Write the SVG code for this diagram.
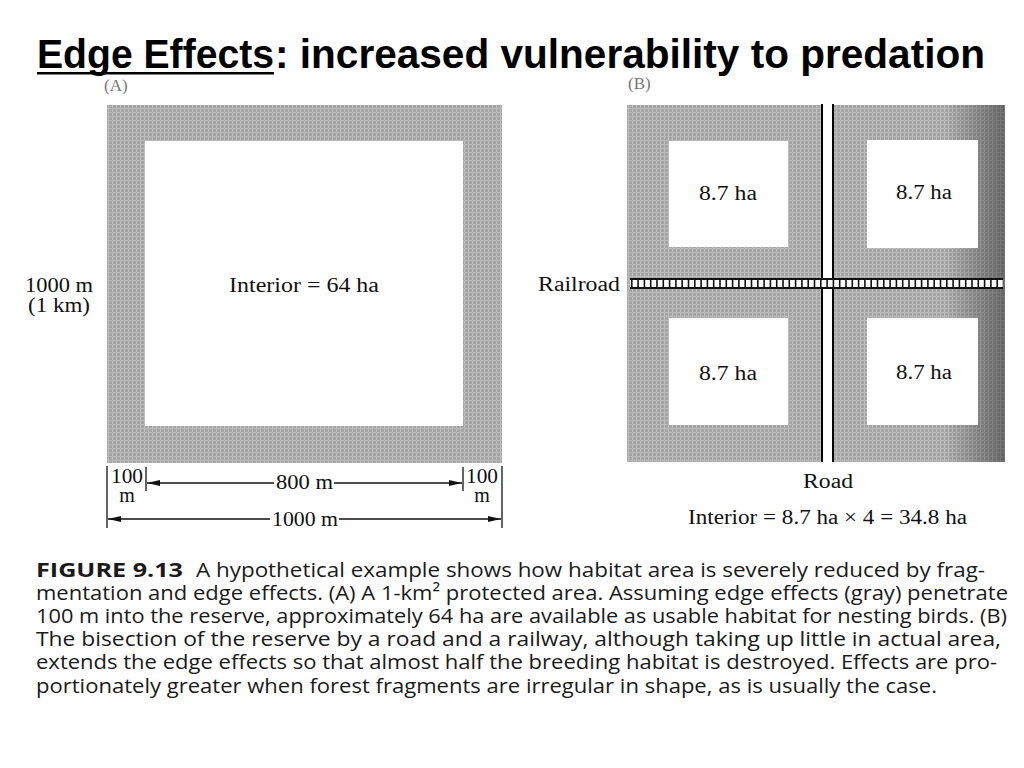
<svg xmlns="http://www.w3.org/2000/svg" width="1024" height="768" viewBox="0 0 1024 768">
<defs>
<style>
.serif{font-family:"Liberation Serif","DejaVu Serif",serif;font-size:20px;fill:#111}
.cap{font-family:"Open Sans","Liberation Sans",sans-serif;font-size:20px;fill:#1a1a1a}
.title{font-family:"Liberation Sans",Arial,sans-serif;font-weight:bold;font-size:40px;fill:#000}
.lbl{font-family:"Liberation Serif",serif;font-size:17px;fill:#777}
.dim{stroke:#111;stroke-width:1.3;fill:none}
.rail{stroke:#111;stroke-width:2}
.road{stroke:#000;stroke-width:2}
</style>
<pattern id="tex" width="4" height="4" patternUnits="userSpaceOnUse">
<rect width="4" height="4" fill="#a5a5a5"/>
<rect width="1" height="4" fill="#bfbfbf"/>
<rect width="4" height="1" fill="#bababa"/>
</pattern>
<linearGradient id="shade" x1="0" y1="0" x2="1" y2="0">
<stop offset="0" stop-color="#000" stop-opacity="0"/>
<stop offset="1" stop-color="#000" stop-opacity="0.4"/>
</linearGradient>
<marker id="ah" markerWidth="13" markerHeight="6" refX="13" refY="3" orient="auto-start-reverse" markerUnits="userSpaceOnUse">
<path d="M0,0 L13,3 L0,6 z" fill="#111"/>
</marker>
</defs>
<rect width="1024" height="768" fill="#fff"/>

<g id="title">
<text class="title" x="37" y="68" textLength="237" lengthAdjust="spacingAndGlyphs">Edge Effects</text>
<text class="title" x="275" y="68" textLength="710" lengthAdjust="spacingAndGlyphs">:  increased vulnerability to predation</text>
<rect x="37" y="72" width="237" height="2.5" fill="#000"/>
</g>

<g id="panel-a">
<text class="lbl" x="104" y="91">(A)</text>
<rect x="107" y="105" width="395" height="358" fill="url(#tex)"/>
<rect x="145" y="141" width="318" height="285" fill="#fff"/>
<text class="serif" x="229" y="292" textLength="150" lengthAdjust="spacingAndGlyphs">Interior = 64 ha</text>
<text class="serif" x="25" y="292" textLength="68" lengthAdjust="spacingAndGlyphs">1000 m</text>
<text class="serif" x="28" y="312" textLength="62" lengthAdjust="spacingAndGlyphs">(1 km)</text>
</g>

<g id="dimensions">
<line class="dim" x1="107" y1="466" x2="107" y2="528"/>
<line class="dim" x1="146" y1="467" x2="146" y2="491"/>
<line class="dim" x1="463" y1="467" x2="463" y2="491"/>
<line class="dim" x1="502" y1="466" x2="502" y2="528"/>
<line class="dim" x1="274" y1="483" x2="147" y2="483" marker-end="url(#ah)"/>
<line class="dim" x1="334" y1="483" x2="462" y2="483" marker-end="url(#ah)"/>
<line class="dim" x1="270" y1="519" x2="108" y2="519" marker-end="url(#ah)"/>
<line class="dim" x1="339" y1="519" x2="501" y2="519" marker-end="url(#ah)"/>
<text class="serif" x="276" y="489" textLength="57" lengthAdjust="spacingAndGlyphs">800 m</text>
<text class="serif" x="272" y="526" textLength="66" lengthAdjust="spacingAndGlyphs">1000 m</text>
<text class="serif" x="111" y="483" textLength="32" lengthAdjust="spacingAndGlyphs">100</text>
<text class="serif" x="127" y="502" text-anchor="middle">m</text>
<text class="serif" x="466" y="483" textLength="32" lengthAdjust="spacingAndGlyphs">100</text>
<text class="serif" x="482" y="502" text-anchor="middle">m</text>
</g>

<g id="panel-b">
<text class="lbl" x="628" y="89">(B)</text>
<rect x="627" y="105" width="378" height="357" fill="url(#tex)"/>
<rect x="945" y="105" width="60" height="357" fill="url(#shade)"/>
<rect x="669" y="141" width="119" height="106" fill="#fff"/>
<rect x="867" y="140" width="111" height="108" fill="#fff"/>
<rect x="669" y="318" width="119" height="107" fill="#fff"/>
<rect x="867" y="318" width="111" height="107" fill="#fff"/>
<text class="serif" x="699" y="200" textLength="58" lengthAdjust="spacingAndGlyphs">8.7 ha</text>
<text class="serif" x="896" y="199" textLength="56" lengthAdjust="spacingAndGlyphs">8.7 ha</text>
<text class="serif" x="699" y="380" textLength="58" lengthAdjust="spacingAndGlyphs">8.7 ha</text>
<text class="serif" x="896" y="379" textLength="56" lengthAdjust="spacingAndGlyphs">8.7 ha</text>
</g>

<g id="road">
<rect x="823" y="105" width="9" height="357" fill="#fff"/>
<line class="road" x1="822" y1="104" x2="822" y2="462"/>
<line class="road" x1="833" y1="104" x2="833" y2="462"/>
<text class="serif" x="803" y="488" textLength="50" lengthAdjust="spacingAndGlyphs">Road</text>
</g>

<g id="railroad">
<rect x="630" y="279" width="373" height="9" fill="#fff"/>
<line x1="631" y1="283.5" x2="1003" y2="283.5" stroke="#111" stroke-width="11" stroke-dasharray="1.6 4.7"/>
<line class="rail" x1="630" y1="279" x2="1003" y2="279"/>
<line class="rail" x1="630" y1="288" x2="1003" y2="288"/>
<text class="serif" x="538" y="291" textLength="82" lengthAdjust="spacingAndGlyphs">Railroad</text>
</g>

<g id="result">
<text class="serif" x="688" y="524" textLength="279" lengthAdjust="spacingAndGlyphs">Interior = 8.7 ha × 4 = 34.8 ha</text>
</g>

<g id="caption">
<text class="cap" x="36" y="577"><tspan font-weight="bold" textLength="147" lengthAdjust="spacingAndGlyphs">FIGURE 9.13</tspan></text>
<text class="cap" x="196" y="577" textLength="789" lengthAdjust="spacingAndGlyphs">A hypothetical example shows how habitat area is severely reduced by frag-</text>
<text class="cap" x="36" y="600" textLength="972" lengthAdjust="spacingAndGlyphs">mentation and edge effects. (A) A 1-km² protected area. Assuming edge effects (gray) penetrate</text>
<text class="cap" x="36" y="623" textLength="971" lengthAdjust="spacingAndGlyphs">100 m into the reserve, approximately 64 ha are available as usable habitat for nesting birds. (B)</text>
<text class="cap" x="36" y="646" textLength="965" lengthAdjust="spacingAndGlyphs">The bisection of the reserve by a road and a railway, although taking up little in actual area,</text>
<text class="cap" x="36" y="669" textLength="961" lengthAdjust="spacingAndGlyphs">extends the edge effects so that almost half the breeding habitat is destroyed. Effects are pro-</text>
<text class="cap" x="36" y="693" textLength="901" lengthAdjust="spacingAndGlyphs">portionately greater when forest fragments are irregular in shape, as is usually the case.</text>
</g>
</svg>
